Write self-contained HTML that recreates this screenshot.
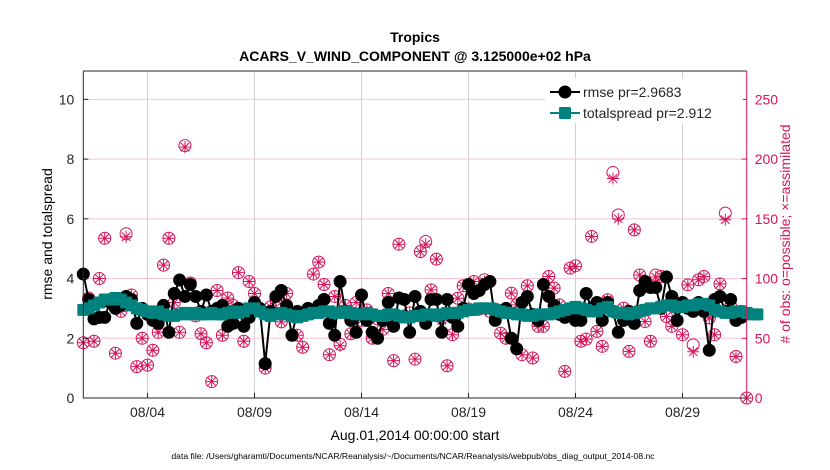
<!DOCTYPE html>
<html><head><meta charset="utf-8">
<style>
html,body{margin:0;padding:0;background:#fff;}
svg{display:block;font-family:"Liberation Sans",sans-serif;}
</style></head>
<body>
<svg id="chart" width="830" height="470" viewBox="0 0 830 470" xmlns="http://www.w3.org/2000/svg">
<rect width="830" height="470" fill="#fff"/>
<text x="415" y="42" text-anchor="middle" font-size="14" font-weight="bold">Tropics</text>
<text x="415" y="61" text-anchor="middle" font-size="14" font-weight="bold">ACARS_V_WIND_COMPONENT @ 3.125000e+02 hPa</text>
<g id="grid"></g>
<g id="marks"></g>
<g id="axes"></g>
<text transform="translate(52,234) rotate(-90)" text-anchor="middle" font-size="14">rmse and totalspread</text>
<text transform="translate(790,234) rotate(-90)" text-anchor="middle" font-size="14" fill="#d6145a"># of obs: o=possible; ×=assimilated</text>
<text x="415" y="440" text-anchor="middle" font-size="14">Aug.01,2014 00:00:00 start</text>
<text x="413" y="459" text-anchor="middle" font-size="8.6">data file: /Users/gharamti/Documents/NCAR/Reanalysis/~/Documents/NCAR/Reanalysis/webpub/obs_diag_output_2014-08.nc</text>
<g id="legend">
<rect x="545" y="78" width="198" height="45" fill="#fff"/>
</g>
</svg>
<script>
const possible=[1.85,3.35,1.9,4.0,5.35,3.3,1.5,2.9,5.5,3.45,1.05,2.0,1.1,1.6,2.2,4.45,5.35,3.2,2.2,8.45,3.85,2.75,2.15,1.85,0.55,3.6,2.1,3.35,3.1,4.2,1.9,3.9,3.5,2.9,1.0,3.05,3.3,2.55,3.5,2.8,2.1,1.7,2.85,4.15,4.55,3.8,1.45,3.4,1.8,3.1,2.15,3.2,2.6,2.95,2.0,2.65,2.3,3.5,1.25,5.15,2.75,2.85,1.3,4.9,
5.24,3.62,4.65,2.68,1.08,2.12,3.34,3.76,2.98,3.9,2.98,3.96,2.9,2.98,2.17,2.0,3.51,3.12,1.45,3.76,1.34,2.4,2.4,4.07,3.68,3.12,0.89,4.35,4.43,1.9,1.97,5.41,2.23,1.73,3.29,7.55,6.13,3.01,1.56,5.63,4.12,2.56,1.9,4.12,4.07,2.73,2.4,3.01,2.12,3.79,1.78,3.96,4.07,2.68,2.12,3.82,6.19,3.07,1.39,2.9,0].map(v=>v*25);
const assimilated=[1.85,3.35,1.9,4.0,5.35,3.3,1.5,2.9,5.4,3.45,1.05,2.0,1.1,1.6,2.2,4.45,5.35,3.2,2.2,8.4,3.85,2.75,2.15,1.85,0.55,3.6,2.1,3.35,3.1,4.2,1.9,3.9,3.5,2.9,1.0,3.05,3.3,2.55,3.5,2.8,2.1,1.7,2.85,4.15,4.55,3.8,1.45,3.4,1.75,3.1,2.15,3.2,2.6,2.95,2.0,2.65,2.3,3.5,1.25,5.15,2.75,2.85,1.3,4.9,
5.15,3.62,4.65,2.6,1.08,2.12,3.34,3.76,2.98,3.9,2.98,3.9,2.9,2.98,2.17,2.0,3.51,3.12,1.45,3.76,1.34,2.4,2.4,4.07,3.68,3.12,0.89,4.35,4.4,1.9,1.97,5.41,2.23,1.73,3.29,7.35,6.0,3.01,1.56,5.63,4.12,2.56,1.9,4.05,4.07,2.73,2.4,3.01,2.12,3.79,1.55,3.96,4.07,2.68,2.12,3.82,5.97,3.07,1.39,2.9,0].map(v=>v*25);
const rmse=[4.15,3.3,2.65,2.7,2.7,3.2,3.0,3.1,3.4,3.3,2.5,3.0,2.8,2.6,2.5,3.1,2.2,3.5,3.95,3.4,3.8,3.4,2.9,3.45,2.9,3.0,3.1,2.4,2.5,3.0,2.4,2.7,3.2,3.0,1.15,2.9,3.4,3.6,3.1,2.1,2.9,2.8,3.0,2.9,3.1,3.3,2.5,2.1,3.9,2.9,2.6,2.2,3.45,2.6,2.2,2.0,2.6,3.2,2.4,3.35,3.3,2.2,3.4,2.9,
2.5,3.3,3.3,2.2,3.3,2.7,2.4,3.0,3.8,3.5,3.6,3.8,3.9,2.6,2.9,3.0,2.0,1.65,3.2,3.4,2.8,2.6,3.8,3.4,3.1,2.8,2.7,2.9,2.6,2.6,3.5,3.0,3.2,2.6,3.2,2.9,2.2,2.6,2.9,2.5,3.6,3.9,3.7,3.7,3.0,4.05,3.4,2.6,3.2,3.0,2.9,3.2,2.9,1.6,3.3,3.4,2.9,3.3,2.6,2.7];
const spread=[2.95,3.0,3.1,3.2,3.3,3.3,3.35,3.3,3.2,3.1,3.0,2.95,2.9,2.85,2.9,2.8,2.75,2.75,2.8,2.85,2.8,2.85,2.8,2.8,2.85,2.8,2.8,2.85,2.9,2.85,2.9,3.0,3.0,2.9,2.8,2.75,2.8,2.85,2.8,2.75,2.7,2.75,2.8,2.85,2.85,2.9,2.9,2.85,2.85,2.9,2.85,2.8,2.8,2.85,2.8,2.75,2.75,2.8,2.8,2.75,2.7,2.7,2.75,2.75,
2.8,2.8,2.75,2.8,2.85,2.85,2.85,2.9,2.95,2.95,3.0,3.0,3.0,2.95,2.9,2.85,2.85,2.8,2.8,2.75,2.75,2.8,2.8,2.8,2.85,2.9,2.95,3.0,3.05,3.0,2.95,2.9,2.9,3.0,3.05,2.9,2.85,2.85,2.8,2.85,2.9,2.95,3.0,3.0,3.05,3.1,3.1,3.05,3.05,3.1,3.1,3.15,3.15,3.1,2.95,2.9,2.85,2.85,2.9,2.9,2.85,2.8,2.8];
const xTickLabels=["08/04","08/09","08/14","08/19","08/24","08/29"];
const xTickDays=[3,8,13,18,23,28];
const yTicks=[0,2,4,6,8,10];
const rTicks=[0,50,100,150,200,250];

const NS="http://www.w3.org/2000/svg";
const L=83.3,R=746.7,T=71,B=398;
const X=d=>L+(R-L)*d/31;
const Y=v=>B-(B-T)*v/10.95;
const YR=n=>Y(n/25);
const MAG="#d6145a", TEAL="#00827f";
function mk(tag,attrs,parent){const e=document.createElementNS(NS,tag);for(const k in attrs)e.setAttribute(k,attrs[k]);parent.appendChild(e);return e;}
const grid=document.getElementById('grid'),marks=document.getElementById('marks'),axes=document.getElementById('axes'),leg=document.getElementById('legend');

xTickDays.forEach((d,i)=>{
  const g=mk('line',{x1:X(d),x2:X(d),y1:T,y2:B,stroke:'#d0d0d0','stroke-width':1},grid);
  
  
  const t=mk('text',{x:X(d),y:B+19,'text-anchor':'middle','font-size':14,fill:'#262626'},axes);
  t.textContent=xTickLabels[i];
  
  
  mk('line',{x1:X(d),x2:X(d),y1:B,y2:B-5,stroke:'#262626'},axes);
});
yTicks.forEach(v=>{
  if(v>0){const g=mk('line',{x1:L,x2:R,y1:Y(v),y2:Y(v),stroke:'#f2c6d6','stroke-width':1},grid);
  
  }
  const t=mk('text',{x:L-9,y:Y(v)+5,'text-anchor':'end','font-size':14,fill:'#262626'},axes);
  t.textContent=v;
  
  
  mk('line',{x1:L,x2:L+5,y1:Y(v),y2:Y(v),stroke:'#262626'},axes);
});
rTicks.forEach(v=>{
  const t=mk('text',{x:R+8,y:YR(v)+5,'font-size':14,fill:MAG},axes);
  t.textContent=v;
  
  
  mk('line',{x1:R,x2:R-5,y1:YR(v),y2:YR(v),stroke:MAG},axes);
});
const la=mk('line',{x1:L,x2:L,y1:T,y2:B,stroke:'#262626'},axes);


mk('line',{x1:L,x2:R,y1:T,y2:T,stroke:'#262626'},axes);
const xa=mk('line',{x1:L,x2:R,y1:B,y2:B,stroke:'#262626'},axes);


const ra=mk('line',{x1:R,x2:R,y1:T,y2:B,stroke:MAG},axes);



function star(cx,cy,r,p){let d='';for(let k=0;k<4;k++){const a=k*Math.PI/4;d+=`M${cx-r*Math.cos(a)},${cy-r*Math.sin(a)}L${cx+r*Math.cos(a)},${cy+r*Math.sin(a)}`;}return mk('path',{d:d,stroke:MAG,'stroke-width':1,fill:'none'},p);}
possible.forEach((n,i)=>{
  const c=mk('circle',{cx:X(i/4),cy:YR(n),r:6,fill:'none',stroke:MAG,'stroke-width':1},marks);
  
  
});
assimilated.forEach((n,i)=>{
  const s=star(X(i/4),YR(n),6,marks);
  
  
});
const rl=mk('polyline',{points:rmse.map((v,i)=>X(i/4)+','+Y(v)).join(' '),fill:'none',stroke:'#000','stroke-width':2},marks);


rmse.forEach((v,i)=>{
  const c=mk('circle',{cx:X(i/4),cy:Y(v),r:6.5,fill:'#000'},marks);
  
  
});
const sl=mk('polyline',{points:spread.map((v,i)=>X(i/4)+','+Y(v)).join(' '),fill:'none',stroke:TEAL,'stroke-width':2},marks);


spread.forEach((v,i)=>{
  const s=mk('rect',{x:X(i/4)-6,y:Y(v)-6,width:12,height:12,rx:1.5,fill:TEAL},marks);
  
  
});
mk('line',{x1:550,x2:580,y1:92,y2:92,stroke:'#000','stroke-width':2},leg);
mk('circle',{cx:565,cy:92,r:6.5,fill:'#000'},leg);
const t1=mk('text',{x:583,y:97,'font-size':14,fill:'#262626'},leg);
t1.textContent='rmse pr=2.9683';


mk('line',{x1:550,x2:580,y1:113,y2:113,stroke:TEAL,'stroke-width':2},leg);
mk('rect',{x:559,y:107,width:12,height:12,rx:1.5,fill:TEAL},leg);
const t2=mk('text',{x:583,y:118,'font-size':14,fill:'#262626'},leg);
t2.textContent='totalspread pr=2.912';


</script>
</body></html>
